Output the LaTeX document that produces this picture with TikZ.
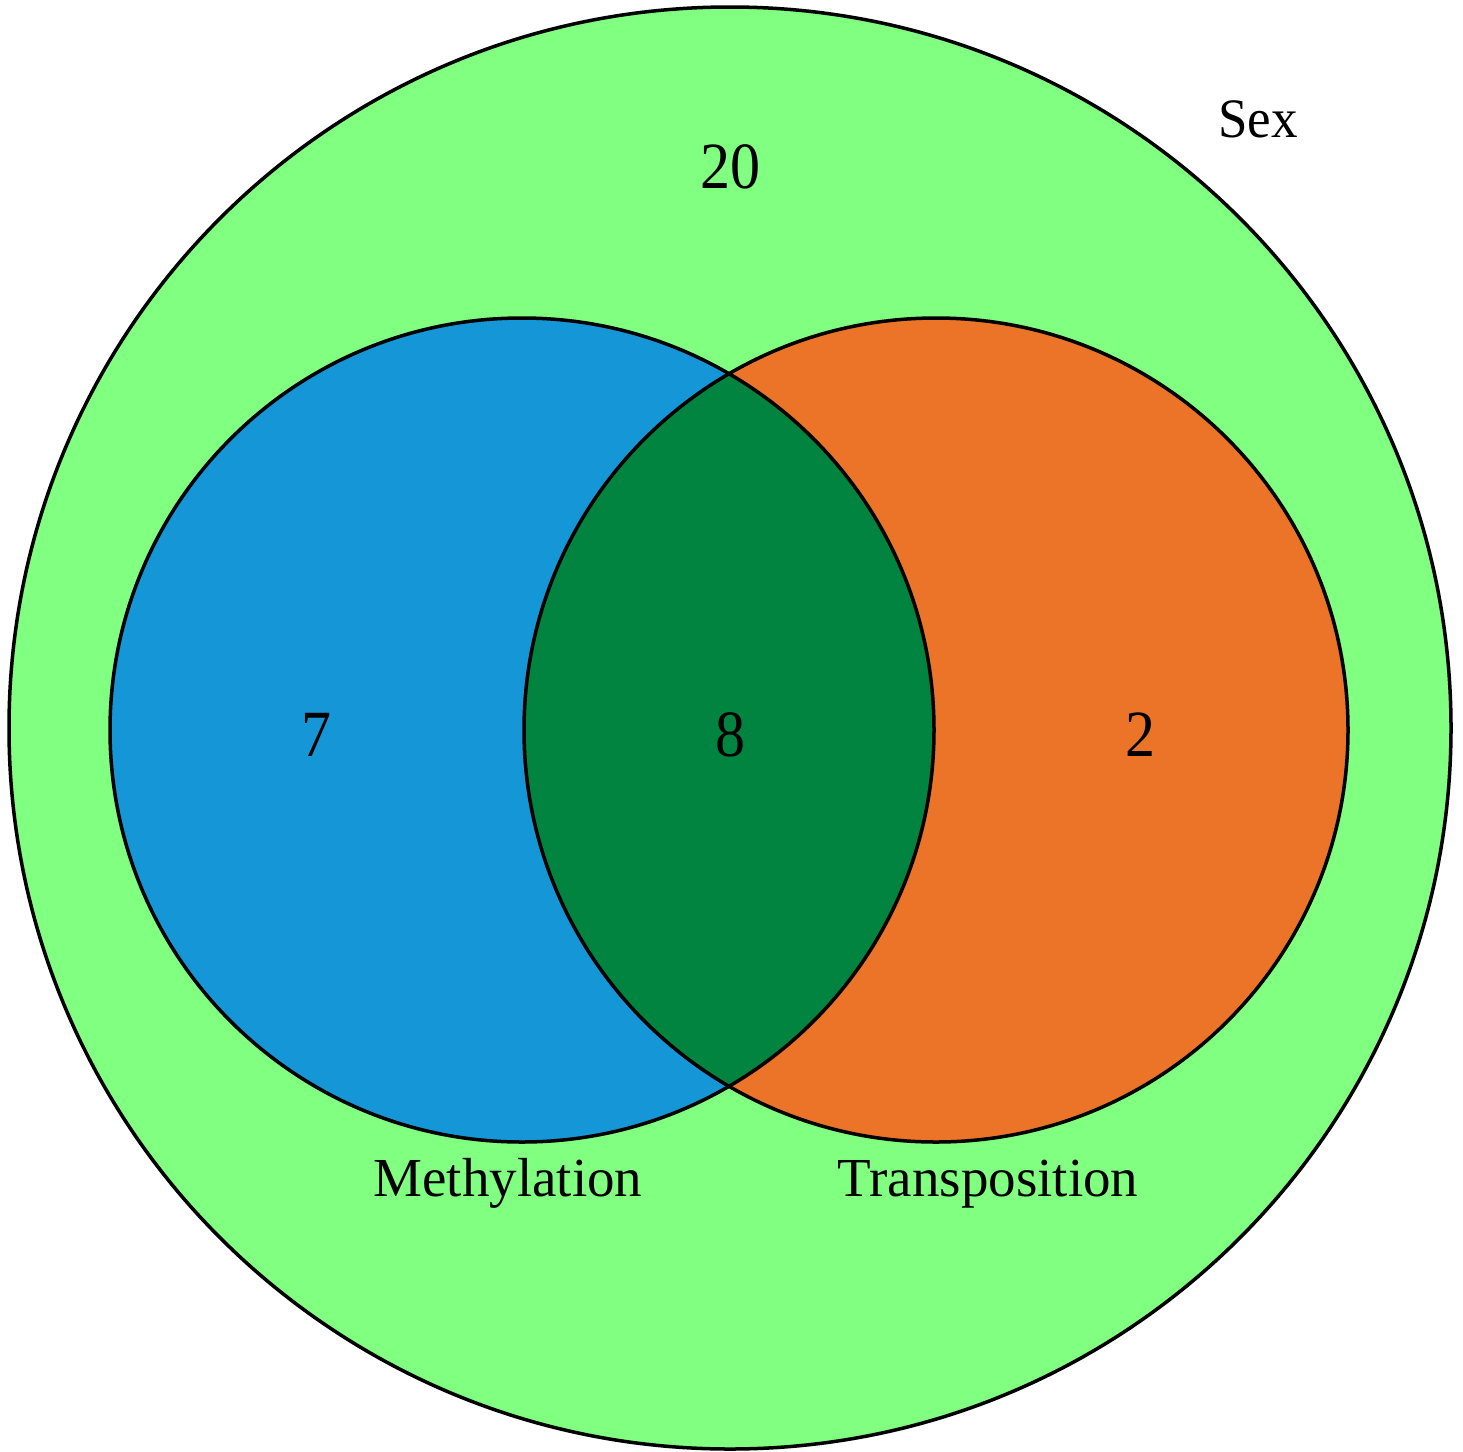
\documentclass[tikz,border=0pt]{standalone}
\usepackage{fontspec}
\usepackage{graphicx}
\setmainfont{Liberation Serif}
\definecolor{sexgreen}{RGB}{128,255,128}
\definecolor{methblue}{RGB}{21,151,215}
\definecolor{transorange}{RGB}{236,116,40}
\definecolor{bothgreen}{RGB}{0,132,63}
\newcommand{\tallnum}[1]{\scalebox{1}[1.1]{#1}}
\tikzset{
  setline/.style={draw=black, line width=3.5pt},
  numlabel/.style={font=\fontsize{60}{60}\selectfont, anchor=base},
  namelabel/.style={font=\fontsize{55}{55}\selectfont, anchor=base},
}
\begin{document}
\begin{tikzpicture}[x=1pt,y=-1pt]
\useasboundingbox (0,0) rectangle (1463,1451);
\fill[white] (0,0) rectangle (1463,1451);
% outer set
\fill[sexgreen] (730,728) circle[radius=721];
\draw[setline] (730,728) circle[radius=721];
% inner sets
\fill[methblue] (522,730) circle[radius=412];
\fill[transorange] (936,730) circle[radius=412];
\begin{scope}
  \clip (522,730) circle[radius=412];
  \fill[bothgreen] (936,730) circle[radius=412];
\end{scope}
\draw[setline] (522,730) circle[radius=412];
\draw[setline] (936,730) circle[radius=412];
% labels
\node[namelabel, font=\fontsize{53}{53}\selectfont] (sex) at (1258,137) {\scalebox{1}[1.05]{Sex}};
\node[numlabel] (n20) at (730,188) {\tallnum{20}};
\node[numlabel] (n7) at (316,756) {\tallnum{7}};
\node[numlabel] (n8) at (730,756) {\tallnum{8}};
\node[numlabel] (n2) at (1140,756) {\tallnum{2}};
\node[namelabel] (meth) at (508,1196) {Methylation};
\node[namelabel] (trans) at (988,1196) {Transposition};
\end{tikzpicture}
\end{document}
